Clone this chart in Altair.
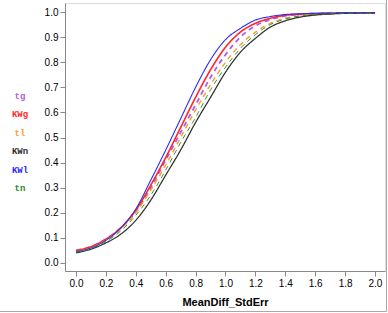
import altair as alt
import pandas as pd

xs = [0.0, 0.1, 0.2, 0.3, 0.4, 0.5, 0.6, 0.7, 0.8, 0.9, 1.0,
      1.1, 1.2, 1.3, 1.4, 1.5, 1.6, 1.7, 1.8, 1.9, 2.0]

series_order = ["tg", "KWg", "tl", "KWn", "KWl", "tn"]
series_colors = ["#b45ae6", "#ff2828", "#f5a028", "#303030", "#2828ff", "#1e8c1e"]
series_dash = [[5, 4], [1, 0], [5, 4], [1, 0], [1, 0], [5, 4]]
series_width = [1.8, 0.9, 1.8, 0.9, 0.9, 2.4]

tg  = [0.050, 0.065, 0.095, 0.140, 0.205, 0.300, 0.410, 0.520, 0.630, 0.740, 0.830,
       0.900, 0.945, 0.970, 0.985, 0.990, 0.993, 0.995, 0.996, 0.997, 0.997]
KWg = [0.050, 0.065, 0.095, 0.140, 0.210, 0.310, 0.420, 0.540, 0.660, 0.770, 0.860,
       0.920, 0.955, 0.975, 0.987, 0.992, 0.994, 0.995, 0.996, 0.997, 0.997]
tl  = [0.045, 0.060, 0.090, 0.135, 0.200, 0.290, 0.390, 0.500, 0.610, 0.710, 0.800,
       0.870, 0.920, 0.955, 0.975, 0.985, 0.990, 0.993, 0.995, 0.996, 0.997]
KWn = [0.040, 0.055, 0.080, 0.115, 0.170, 0.250, 0.350, 0.450, 0.560, 0.660, 0.760,
       0.840, 0.895, 0.940, 0.965, 0.980, 0.988, 0.992, 0.995, 0.996, 0.997]
KWl = [0.045, 0.060, 0.090, 0.140, 0.215, 0.330, 0.450, 0.575, 0.700, 0.810, 0.890,
       0.935, 0.968, 0.982, 0.990, 0.993, 0.995, 0.996, 0.997, 0.997, 0.997]
tn  = [0.042, 0.057, 0.085, 0.128, 0.190, 0.270, 0.370, 0.480, 0.580, 0.690, 0.780,
       0.855, 0.910, 0.950, 0.972, 0.985, 0.990, 0.993, 0.995, 0.996, 0.997]

values = {"tg": tg, "KWg": KWg, "tl": tl, "KWn": KWn, "KWl": KWl, "tn": tn}
rows = []
for s in series_order:
    for x, y in zip(xs, values[s]):
        rows.append({"series": s, "MeanDiff_StdErr": x, "p": y})
df = pd.DataFrame(rows)
legend_df = pd.DataFrame({"series": series_order})

FONT = "Liberation Mono"
color_scale = alt.Scale(domain=series_order, range=series_colors)

lines = alt.Chart(df).mark_line(interpolate="monotone").encode(
    x=alt.X("MeanDiff_StdErr:Q",
            scale=alt.Scale(domain=[-0.0736, 2.067], nice=False, zero=False),
            axis=alt.Axis(values=[0.0, 0.2, 0.4, 0.6, 0.8, 1.0, 1.2, 1.4, 1.6, 1.8, 2.0],
                          format=".1f", grid=False, title="MeanDiff_StdErr",
                          titlePadding=8)),
    y=alt.Y("p:Q",
            scale=alt.Scale(domain=[-0.032, 1.036], nice=False, zero=False),
            axis=alt.Axis(values=[0.0, 0.1, 0.2, 0.3, 0.4, 0.5, 0.6, 0.7, 0.8, 0.9, 1.0],
                          format=".1f", grid=False, title=None)),
    color=alt.Color("series:N", scale=color_scale, legend=None),
    strokeDash=alt.StrokeDash("series:N",
                              scale=alt.Scale(domain=series_order, range=series_dash),
                              legend=None),
    strokeWidth=alt.StrokeWidth("series:N",
                                scale=alt.Scale(domain=series_order, range=series_width),
                                legend=None),
    detail="series:N",
)

labels = alt.Chart(legend_df).mark_text(font=FONT, fontSize=9, fontWeight="bold",
                                        align="center", baseline="middle").encode(
    x=alt.value(-45),
    y=alt.Y("series:N", sort=series_order, axis=None,
            scale=alt.Scale(type="point", range=[93, 185], padding=0)),
    text="series:N",
    color=alt.Color("series:N", scale=color_scale, legend=None),
)

border_df = pd.DataFrame({"a": [0]})
right_border = alt.Chart(border_df).mark_rule(color="#a8a8a8", strokeWidth=1).encode(
    x=alt.value(321.5), y=alt.value(-3), y2=alt.value(308.5))
bottom_border = alt.Chart(border_df).mark_rule(color="#a8a8a8", strokeWidth=1).encode(
    x=alt.value(-65), x2=alt.value(321.5), y=alt.value(308.5))

chart = alt.layer(lines, labels, right_border, bottom_border).resolve_scale(
    y="independent"
).properties(
    width=320, height=268, autosize="none",
    padding={"left": 65, "top": 3, "right": 3, "bottom": 42},
).configure_view(
    stroke="#a8a8a8", strokeWidth=1
).configure_axis(
    labelFont=FONT, labelFontSize=9, labelFontWeight="bold", labelColor="#000000",
    titleFont=FONT, titleFontSize=9, titleFontWeight="bold", titleColor="#000000",
    domainColor="#808080", tickColor="#808080", tickSize=4, labelPadding=3,
).configure(background="white")

chart.save("out.html", embed_options={"renderer": "svg", "actions": False})
